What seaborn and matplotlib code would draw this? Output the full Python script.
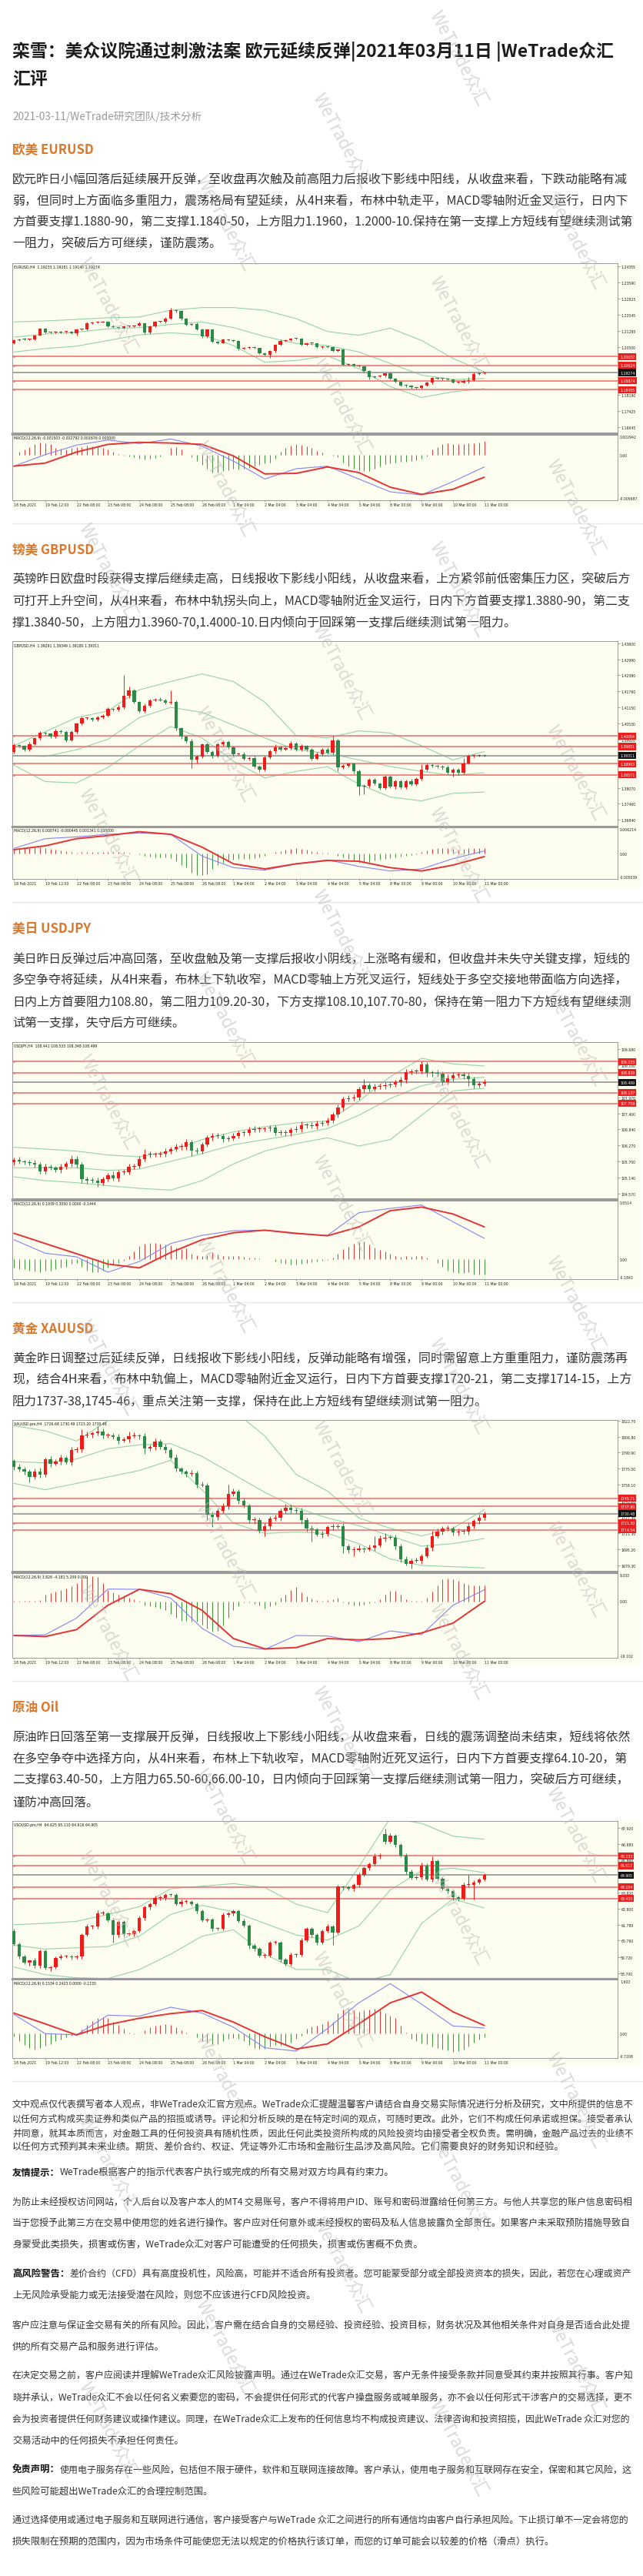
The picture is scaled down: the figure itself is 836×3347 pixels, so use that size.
import matplotlib
matplotlib.use("Agg")
import matplotlib.pyplot as plt
import matplotlib.transforms as mtrans
from matplotlib.patches import Rectangle
from matplotlib.lines import Line2D
import numpy as np
import seaborn as sns

sns.set_theme(style="white")
plt.rcParams['font.family'] = ['Noto Sans CJK SC', 'DejaVu Sans']
plt.rcParams['axes.unicode_minus'] = False

W, H = 837, 3348

# ---------------- shared chart data ----------------
time_labels = ["18 Feb 2021", "19 Feb 12:00", "22 Feb 08:00", "23 Feb 08:00", "24 Feb 08:00",
               "25 Feb 08:00", "26 Feb 08:00", "1 Mar 04:00", "2 Mar 04:00", "3 Mar 04:00",
               "4 Mar 04:00", "5 Mar 04:00", "8 Mar 00:00", "9 Mar 00:00", "10 Mar 00:00",
               "11 Mar 00:00"]

# ---------------- EURUSD H4 ----------------
eu_open0 = 1.2069
eu_close = [1.2084, 1.2087, 1.2086, 1.2087, 1.2106, 1.2137, 1.2121, 1.2118, 1.2121, 1.2122,
            1.2123, 1.2116, 1.2133, 1.2134, 1.2165, 1.2167, 1.2169, 1.2170, 1.2150, 1.2144,
            1.2142, 1.2149, 1.2150, 1.2153, 1.2165, 1.2118, 1.2149, 1.2170, 1.2170, 1.2186,
            1.2226, 1.2222, 1.2186, 1.2158, 1.2161, 1.2133, 1.2100, 1.2133, 1.2075, 1.2069,
            1.2085, 1.2084, 1.2079, 1.2042, 1.2047, 1.2048, 1.2044, 1.2020, 1.2012, 1.2030,
            1.2060, 1.2079, 1.2084, 1.2089, 1.2090, 1.2060, 1.2069, 1.2066, 1.2048, 1.2051,
            1.2049, 1.2032, 1.2037, 1.1964, 1.1967, 1.1961, 1.1958, 1.1934, 1.1907, 1.1909,
            1.1912, 1.1925, 1.1899, 1.1884, 1.1866, 1.1864, 1.1857, 1.1855, 1.1864, 1.1878,
            1.1900, 1.1899, 1.1897, 1.1894, 1.1880, 1.1881, 1.1888, 1.1892, 1.1921, 1.1924,
            1.1927]
eu_wick_up = [4,3,5,3,4,6,4,3,5,4, 3,4,6,3,5,4,6,3,4,5, 3,4,3,5,6,4,5,6,3,6, 12,5,4,3,4,5,4,6,5,3,
              4,5,3,4,3,4,5,3,4,6, 5,8,4,3,5,4,3,5,4,3, 4,5,3,6,4,3,5,4,3,4, 5,4,3,4,3,5,4,3,6,5,
              7,4,3,5,4,6,5,15,8,5, 4]
eu_wick_dn = [5,4,3,5,4,3,5,4,3,4, 5,3,12,4,3,5,4,3,5,4, 3,5,4,3,4,6,5,3,4,5, 4,5,6,4,5,3,5,6,4,5,
              3,4,5,6,4,5,3,4,5,15, 6,4,3,5,4,3,5,4,3,5, 4,3,5,4,5,3,4,5,14,4, 3,5,4,6,5,8,6,5,4,3,
              5,4,6,5,4,5,6,14,5,4, 3]
eu_bb_up = [1.2170, 1.2175, 1.2182, 1.2190, 1.2194, 1.2226, 1.2239, 1.2239, 1.2226, 1.2186,
            1.2124, 1.2106, 1.2140, 1.2081, 1.1995, 1.1931]
eu_bb_mid = [1.2097, 1.2112, 1.2121, 1.2137, 1.2143, 1.2158, 1.2170, 1.2143, 1.2100, 1.2067,
             1.2057, 1.2026, 1.1971, 1.1915, 1.1894, 1.1899]
eu_bb_lo = [1.2026, 1.2042, 1.2054, 1.2081, 1.2108, 1.2118, 1.2108, 1.2057, 1.1977, 1.1985,
            1.2008, 1.1946, 1.1860, 1.1808, 1.1835, 1.1850]
# MACD in units of 1e-4
eu_macd = [-16.0, 0.7, 14.5, 21.9, 16.7, 23.4, 13.0, -8.6, -34.6, -19.7, -16.0, -34.6, -53.2, -57.7, -38.3, -17.1]
eu_signal = [-16.0, -11.5, 4.5, 15.6, 18.6, 17.5, 15.6, -1.1, -27.2, -26.4, -17.1, -25.3, -46.5, -56.9, -49.5, -32.0]
eu_hist = [0, 4.5, 8.2, 11.9, 15.6, 18.2, 17.5, 15.6, 10.0, 9.3,
           8.2, 10.0, 11.9, 11.9, 13.8, 13.0, 13.8, 10.0, 8.2, 4.5,
           1.9, -1.1, -1.9, -3.0, -4.8, -6.7, -4.8, -3.7, -2.2, 0,
           10.0, 11.9, 8.2, 0.7, -3.0, -8.6, -14.1, -19.7, -25.3, -25.3,
           -23.4, -21.6, -19.7, -20.8, -19.7, -19.0, -16.0, -14.1, -12.3, -10.4,
           -4.8, 4.5, 10.0, 13.8, 15.6, 14.5, 13.0, 10.0, 6.3, 3.3,
           0.7, -1.1, -3.0, -10.4, -16.0, -19.7, -21.6, -22.7, -22.7, -19.7,
           -16.0, -13.0, -11.5, -10.4, -9.7, -9.7, -8.6, -7.1, -4.8, -1.9,
           8.2, 11.9, 15.6, 16.7, 16.4, 15.6, 15.6, 16.7, 17.5, 18.2, 20.1]
eu_levels = [1.20032, 1.19624, 1.18874, 1.18455]
eu_last = 1.19274
eu_ticks = [1.24355, 1.23590, 1.22825, 1.22045, 1.21280, 1.20500, 1.19735, 1.18970, 1.18190, 1.17425, 1.16645]

# ---------------- GBPUSD H4 ----------------
gb_open0 = 1.3944
gb_close = [1.3970, 1.3968, 1.3953, 1.3975, 1.3996, 1.4017, 1.4014, 1.4002, 1.4025, 1.4022,
            1.3990, 1.4022, 1.4052, 1.4073, 1.4073, 1.4068, 1.4078, 1.4084, 1.4108, 1.4106,
            1.4115, 1.4158, 1.4179, 1.4135, 1.4101, 1.4122, 1.4143, 1.4145, 1.4143, 1.4133,
            1.4135, 1.4035, 1.4002, 1.3986, 1.3914, 1.3927, 1.3973, 1.3944, 1.3929, 1.3973,
            1.3983, 1.3963, 1.3937, 1.3937, 1.3919, 1.3922, 1.3889, 1.3877, 1.3924, 1.3946,
            1.3963, 1.3953, 1.3958, 1.3978, 1.3953, 1.3968, 1.3953, 1.3919, 1.3937, 1.3953,
            1.3941, 1.3990, 1.3885, 1.3891, 1.3899, 1.3870, 1.3813, 1.3816, 1.3838, 1.3823,
            1.3806, 1.3850, 1.3811, 1.3833, 1.3809, 1.3833, 1.3821, 1.3842, 1.3877, 1.3894,
            1.3891, 1.3889, 1.3885, 1.3865, 1.3878, 1.3865, 1.3901, 1.3929, 1.3931, 1.3932,
            1.3931]
gb_wick_up = [6,5,4,8,5,6,4,5,7,5, 4,6,5,8,4,5,6,5,7,5, 8,80,15,6,5,7,6,5,8,6, 45,6,5,4,8,6,5,7,6,8,
              5,6,5,4,6,5,7,5,6,8, 10,5,6,8,5,6,4,5,6,5, 8,15,5,6,5,4,8,5,6,7, 5,6,5,4,6,5,8,6,20,6,
              5,6,5,8,6,5,20,8,6,5, 5]
gb_wick_dn = [5,6,5,7,4,5,6,5,4,6, 8,5,6,4,5,7,5,6,4,5, 6,5,8,6,7,5,6,5,4,6, 5,8,7,6,30,15,6,5,8,6,
              5,7,6,5,6,8,6,10,7,5, 6,5,4,6,5,6,5,7,5,6, 5,6,15,5,6,8,33,30,6,5, 7,6,5,8,6,5,6,5,6,5,
              6,5,7,6,15,8,6,5,6,5, 5]
gb_bb_up = [1.3968, 1.4022, 1.4076, 1.4101, 1.4182, 1.4214, 1.4243, 1.4214, 1.4135, 1.4007,
            1.3998, 1.4025, 1.4017, 1.3968, 1.3914, 1.3946]
gb_bb_mid = [1.3931, 1.3927, 1.3953, 1.3993, 1.4076, 1.4115, 1.4096, 1.4047, 1.3998, 1.3953,
             1.3939, 1.3914, 1.3889, 1.3870, 1.3855, 1.3865]
gb_bb_lo = [1.3894, 1.3831, 1.3826, 1.3885, 1.3968, 1.4042, 1.3998, 1.3909, 1.3845, 1.3870,
            1.3888, 1.3821, 1.3772, 1.3757, 1.3786, 1.3791]
gb_macd = [12.2, 35.3, 39.6, 45.7, 48.7, 45.7, -6.1, -33.5, -39.6, -24.4, -15.2, -30.5, -41.4, -36.5, -12.2, 6.1]
gb_signal = [9.1, 18.3, 35.3, 42.6, 51.8, 45.7, 15.2, -24.4, -36.5, -24.4, -16.4, -18.3, -33.5, -41.4, -27.4, -7.3]
gb_hist = [11.0, 12.2, 13.4, 14.0, 15.2, 14.0, 13.4, 11.0, 9.1, 7.3,
           4.9, 3.0, 2.4, 3.0, 3.0, 3.7, 3.7, 3.7, 4.3, 4.3,
           3.7, 3.7, 2.4, 0, -1.2, -4.9, -7.3, -8.5, -8.5, -8.5,
           -11.0, -18.3, -27.4, -33.5, -45.7, -51.8, -51.8, -48.7, -36.5, -27.4,
           -21.3, -18.3, -15.2, -13.4, -12.2, -12.2, -11.0, -9.1, -4.9, 0,
           3.0, 6.1, 9.1, 11.0, 12.2, 11.0, 9.1, 6.1, 3.7, 1.8,
           1.2, 0, -4.9, -9.1, -13.4, -17.1, -21.3, -21.3, -19.5, -17.1,
           -15.2, -12.2, -10.4, -9.1, -7.3, -6.1, -3.7, -1.2, 3.0, 7.3,
           11.0, 13.4, 13.4, 12.2, 11.0, 9.7, 11.0, 12.2, 12.2, 12.2, 13.4]
gb_levels = [1.40054, 1.39651, 1.38993, 1.38571]
gb_last = 1.39311
gb_ticks = [1.43600, 1.42990, 1.42380, 1.41760, 1.41150, 1.40530, 1.39920, 1.38690, 1.38070, 1.37460, 1.36840]

# ---------------- USDJPY H4 ----------------
jp_open0 = 105.678
jp_close = [105.768, 105.705, 105.678, 105.659, 105.596, 105.360, 105.505, 105.478, 105.414, 105.523,
            105.614, 105.796, 105.596, 105.069, 105.024, 105.015, 104.951, 105.088, 105.206, 105.115,
            105.324, 105.324, 105.523, 105.541, 105.777, 105.950, 105.959, 105.959, 105.977, 106.068,
            106.131, 106.222, 106.231, 106.376, 106.086, 106.068, 106.313, 106.540, 106.612, 106.612,
            106.494, 106.522, 106.612, 106.703, 106.703, 106.830, 106.839, 106.839, 106.866, 106.903,
            106.721, 106.721, 106.703, 106.821, 106.839, 106.976, 106.994, 106.957, 107.048, 107.066,
            107.157, 107.357, 107.611, 107.919, 107.946, 107.974, 108.264, 108.391, 108.273, 108.355,
            108.373, 108.400, 108.418, 108.500, 108.591, 108.863, 108.881, 108.900, 109.126, 108.836,
            108.827, 108.809, 108.500, 108.645, 108.763, 108.781, 108.736, 108.609, 108.400, 108.446,
            108.499]
jp_wick_up = [8,10,6,8,10,7,12,8,6,10, 8,12,9,7,8,10,12,8,10,15, 9,8,10,7,12,20,10,8,9,10, 8,10,9,12,8,10,7,8,10,9,
              8,7,9,10,8,9,12,8,7,9, 8,10,9,8,12,15,8,9,10,8, 9,10,12,8,10,9,8,24,10,9, 8,10,9,8,12,10,9,8,12,10,
              9,12,8,15,10,9,8,10,9,10, 12]
jp_wick_dn = [10,8,9,8,12,10,9,8,10,12, 8,9,10,12,10,8,14,9,10,8, 12,9,8,10,9,8,10,9,8,10, 9,8,10,12,20,9,8,10,9,8,
              10,9,8,10,9,8,10,9,8,10, 9,8,10,9,8,10,9,8,10,9, 8,10,9,12,10,9,8,12,10,9, 8,10,9,8,12,10,9,8,10,14,
              12,10,9,8,10,9,12,23,10,9, 8]
jp_bb_up = [106.204, 106.140, 106.068, 105.932, 105.868, 106.068, 106.476, 106.749, 106.930, 107.066,
            107.139, 107.838, 108.700, 109.353, 109.154, 109.081]
jp_bb_mid = [105.478, 105.478, 105.478, 105.387, 105.433, 105.705, 105.977, 106.295, 106.476, 106.658,
             106.866, 107.338, 107.928, 108.382, 108.609, 108.682]
jp_bb_lo = [105.160, 105.024, 104.951, 104.843, 104.752, 104.688, 105.024, 105.614, 106.068, 106.340,
            106.540, 106.249, 106.476, 107.338, 108.201, 108.291]
jp_macd = [0.191, 0.060, 0.025, -0.124, -0.020, 0.154, 0.233, 0.278, 0.283, 0.248, 0.233, 0.452, 0.494, 0.527, 0.365, 0.204]
jp_signal = [0.253, 0.154, 0.055, -0.045, -0.082, 0.067, 0.191, 0.258, 0.283, 0.253, 0.229, 0.315, 0.472, 0.507, 0.440, 0.315]
jp_hist = [-0.082, -0.094, -0.094, -0.107, -0.119, -0.124, -0.107, -0.107, -0.094, -0.082,
           -0.070, -0.045, -0.032, -0.070, -0.107, -0.124, -0.124, -0.107, -0.082, -0.057,
           -0.032, -0.015, 0.035, 0.075, 0.129, 0.154, 0.159, 0.159, 0.154, 0.147,
           0.134, 0.117, 0.099, 0.109, 0.055, 0.042, 0.035, 0.042, 0.067, 0.050,
           0.035, 0.030, 0.030, 0.030, 0.022, 0.017, 0.015, 0.012, 0.005, 0.002,
           -0.020, -0.032, -0.045, -0.050, -0.052, -0.045, -0.035, -0.027, -0.020, -0.015,
           -0.005, 0.017, 0.055, 0.099, 0.124, 0.154, 0.166, 0.174, 0.142, 0.117,
           0.092, 0.075, 0.055, 0.035, 0.025, 0.030, 0.025, 0.030, 0.035, 0.017,
           0, -0.032, -0.070, -0.107, -0.124, -0.131, -0.131, -0.124, -0.144, -0.149, -0.149]
jp_levels = [109.233, 108.839, 108.137, 107.759]
jp_last = 108.499
jp_ticks = [109.680, 109.100, 107.970, 107.400, 106.840, 106.270, 105.700, 105.140, 104.570]

# ---------------- XAUUSD H4 ----------------
xau_open0 = 1782.63
xau_close = [1777.05, 1774.51, 1772.49, 1766.91, 1771.98, 1768.93, 1784.15, 1780.09, 1782.12, 1785.67,
             1781.61, 1793.28, 1794.29, 1807.99, 1808.50, 1810.02, 1812.05, 1807.99, 1807.99, 1806.21,
             1802.92, 1804.44, 1807.48, 1807.74, 1807.48, 1794.80, 1796.83, 1801.90, 1796.32, 1793.79,
             1786.18, 1775.02, 1771.98, 1769.95, 1770.96, 1759.30, 1758.79, 1729.37, 1727.34, 1733.43,
             1737.74, 1750.17, 1752.70, 1743.57, 1738.50, 1724.30, 1724.30, 1713.65, 1718.21, 1725.82,
             1726.33, 1733.43, 1736.47, 1734.45, 1733.43, 1724.30, 1716.19, 1714.92, 1710.10, 1710.61,
             1717.20, 1717.71, 1718.47, 1698.43, 1694.38, 1694.88, 1695.90, 1695.64, 1696.91, 1699.45,
             1706.04, 1707.06, 1707.06, 1698.43, 1685.25, 1681.19, 1684.23, 1684.23, 1688.80, 1696.91,
             1708.58, 1712.89, 1715.93, 1715.93, 1712.38, 1712.89, 1713.14, 1718.21, 1723.29, 1726.33,
             1730.48]
xau_wick_up = [2,3,2,2,3,4,2,3,2,3, 2,3,2,6,3,2,5,3,2,2, 3,2,4,3,2,3,2,3,2,3, 2,3,2,2,3,2,3,2,3,2,
               3,9,3,2,3,2,3,2,3,2, 3,2,4,3,2,3,2,3,2,3, 2,3,2,3,2,3,4,2,3,9, 3,4,2,3,2,3,2,3,2,3,
               5,3,2,3,2,3,2,3,2,3, 2]
xau_wick_dn = [3,2,3,5,2,3,2,3,2,3, 2,3,2,3,2,3,2,3,2,2, 3,2,3,2,3,5,2,3,2,3, 2,3,2,3,2,3,2,5,10,3,
               2,3,2,3,2,3,4,2,5,3, 2,3,2,3,2,4,3,12,2,3, 2,3,2,7,3,6,2,3,2,3, 2,3,2,3,3,2,5,2,3,2,
               3,2,3,2,3,3,2,3,2,3, 2]
xau_bb_up = [1817.63, 1812.55, 1802.41, 1822.70, 1825.23, 1822.70, 1842.99, 1832.84, 1807.48, 1769.44,
             1752.96, 1726.33, 1716.19, 1708.58, 1716.19, 1734.45]
xau_bb_mid = [1782.12, 1780.85, 1784.66, 1794.80, 1798.61, 1799.87, 1787.19, 1769.44, 1751.69, 1736.47,
              1726.33, 1718.72, 1708.58, 1698.43, 1700.97, 1706.04]
xau_bb_lo = [1760.57, 1754.23, 1760.57, 1766.91, 1773.25, 1783.39, 1754.23, 1721.26, 1711.11, 1712.38,
             1711.11, 1700.97, 1685.75, 1679.41, 1678.15, 1676.88]
xau_macd = [-11.60, -11.34, -5.67, 4.19, 4.10, 1.13, -9.16, -15.26, -16.31, -11.60, -11.77, -13.69, -10.03, -11.34, -1.31, 3.92]
xau_signal = [-11.60, -11.95, -9.59, -1.31, 4.10, 2.62, -3.05, -12.64, -16.13, -15.70, -12.64, -13.08, -12.64, -10.73, -7.41, 0.0]
xau_hist = [0.09, 0.17, 0.26, 0.26, 0.26, 0.35, 2.18, 2.79, 3.23, 3.92,
            4.36, 5.23, 6.10, 7.85, 8.46, 8.46, 8.28, 6.10, 3.92, 3.05,
            2.18, 1.48, 1.13, 0.61, 0.26, -1.31, -1.74, -2.01, -2.35, -3.05,
            -4.36, -5.67, -6.54, -6.54, -6.98, -6.98, -7.85, -9.16, -10.20, -10.03,
            -8.28, -5.67, -3.05, -1.74, -0.44, -0.44, -0.87, -1.31, -2.35, -1.74,
            -1.13, 1.13, 2.18, 3.92, 4.80, 3.05, 1.74, 0.87, 0.44, 0.26,
            0.44, 0.61, 1.13, -0.26, -0.87, -1.31, -1.31, -1.13, -0.70, -0.26,
            0.61, 2.18, 3.49, 3.49, 2.18, 0.61, 0.26, 0.09, 0.26, 1.13,
            3.23, 5.49, 7.41, 7.67, 7.41, 6.98, 6.10, 5.67, 5.49, 5.41, 5.41]
xau_levels = [1745.71, 1737.80, 1721.30, 1714.54]
xau_last = 1730.48
xau_ticks = [1822.70, 1806.80, 1790.90, 1775.00, 1759.10, 1743.20, 1727.30, 1711.30, 1695.20, 1679.30]

# ---------------- USOUSD (Oil) H4 ----------------
oil_open0 = 61.364
oil_gap_open = {71: 67.514}
oil_close = [60.550, 59.737, 59.379, 59.492, 59.167, 60.094, 59.004, 59.086, 59.655, 59.769,
             59.769, 59.704, 59.737, 61.119, 61.656, 61.656, 62.502, 62.502, 62.047, 61.119,
             61.933, 61.168, 61.168, 61.364, 62.177, 62.860, 63.072, 63.446, 63.479, 63.674,
             63.641, 63.072, 63.235, 63.235, 63.072, 62.633, 62.047, 62.096, 61.526, 61.526,
             62.372, 62.470, 62.633, 62.014, 61.689, 60.420, 60.225, 59.818, 59.818, 60.631,
             60.631, 59.574, 59.281, 59.867, 59.867, 60.794, 61.494, 61.119, 60.631, 61.364,
             61.656, 61.282, 64.178, 64.129, 64.048, 64.292, 64.910, 65.350, 65.594, 66.082,
             66.163, 67.026, 67.416, 66.814, 66.163, 65.138, 64.748, 64.780, 65.512, 64.650,
             65.789, 64.699, 64.048, 63.885, 63.511, 63.397, 64.292, 64.292, 64.422, 64.650,
             64.905]
oil_wick_up = [15,10,12,8,15,10,12,8,10,12, 8,10,12,10,15,10,20,12,10,15, 10,12,8,10,15,12,10,15,12,10,
               8,10,12,15,10,12,10,8,12,10, 15,12,10,8,12,10,15,10,12,10, 15,12,10,12,10,15,10,12,10,8,
               15,12,10,8,12,10,15,12,10,20, 15,35,15,12,10,15,12,10,20,15, 30,12,10,15,12,10,15,62,15,10, 12]
oil_wick_dn = [12,15,10,20,12,15,10,20,12,10, 12,15,10,12,10,15,12,10,12,50, 12,15,10,12,10,15,12,10,12,15,
               10,12,15,10,12,15,10,12,15,12, 10,12,15,12,10,20,12,10,15,12, 10,15,12,10,15,12,10,15,12,10,
               12,80,12,15,10,12,15,10,12,10, 12,15,10,12,10,15,12,10,12,10, 15,12,10,15,17,12,10,12,93,10, 10]
oil_bb_up = [61.770, 61.852, 61.982, 62.421, 62.909, 64.048, 64.211, 64.373, 64.129, 63.072,
             62.535, 65.431, 68.522, 68.197, 67.383, 67.188]
oil_bb_mid = [60.469, 60.225, 60.306, 60.387, 61.038, 62.421, 62.991, 62.584, 61.852, 61.119,
              60.794, 61.689, 63.967, 65.187, 65.350, 65.073]
oil_bb_lo = [59.086, 58.598, 58.402, 58.354, 58.923, 59.899, 61.038, 61.445, 59.899, 58.923,
             58.923, 58.109, 58.598, 61.852, 63.397, 62.828]
oil_macd = [0.572, 0.0, -0.038, 0.549, 0.519, 0.786, 0.610, 0.191, -0.420, -0.519, 0.153, 0.916, 1.488, 0.877, 0.229, 0.168]
oil_signal = [0.610, 0.290, -0.038, 0.267, 0.458, 0.595, 0.687, 0.343, -0.092, -0.458, -0.305, 0.290, 0.916, 1.236, 0.649, 0.244]
oil_hist = [-0.092, -0.229, -0.343, -0.420, -0.473, -0.420, -0.366, -0.305, -0.229, -0.168,
            -0.114, -0.061, -0.015, 0.114, 0.267, 0.382, 0.473, 0.496, 0.458, 0.343,
            0.267, 0.153, 0.038, -0.015, 0.015, 0.092, 0.191, 0.244, 0.267, 0.290,
            0.267, 0.191, 0.092, 0.038, 0.0, -0.114, -0.229, -0.267, -0.305, -0.305,
            -0.229, -0.153, -0.137, -0.153, -0.214, -0.343, -0.420, -0.458, -0.458, -0.382,
            -0.343, -0.366, -0.343, -0.267, -0.153, -0.061, 0.153, 0.214, 0.244, 0.290,
            0.382, 0.343, 0.610, 0.725, 0.748, 0.702, 0.649, 0.687, 0.725, 0.748,
            0.687, 0.610, 0.534, 0.458, 0.229, 0.038, -0.153, -0.229, -0.290, -0.320,
            -0.382, -0.420, -0.473, -0.496, -0.534, -0.519, -0.473, -0.382, -0.267, -0.168, -0.114]
oil_levels = [66.133, 65.517, 64.154, 63.433]
oil_last = 64.905
oil_ticks = [67.920, 66.880, 65.860, 63.820, 62.800, 61.780, 60.760, 59.720, 58.700]

# ---------------- article text ----------------
title_lines = ["栾雪：美众议院通过刺激法案 欧元延续反弹|2021年03月11日 |WeTrade众汇", "汇评"]
meta_line = "2021-03-11/WeTrade研究团队/技术分析"

eu_head = "欧美 EURUSD"
eu_text = ["欧元昨日小幅回落后延续展开反弹，至收盘再次触及前高阻力后报收下影线中阳线，从收盘来看，下跌动能略有减",
           "弱，但同时上方面临多重阻力，震荡格局有望延续，从4H来看，布林中轨走平，MACD零轴附近金叉运行，日内下",
           "方首要支撑1.1880-90，第二支撑1.1840-50，上方阻力1.1960，1.2000-10.保持在第一支撑上方短线有望继续测试第",
           "一阻力，突破后方可继续，谨防震荡。"]
gb_head = "镑美 GBPUSD"
gb_text = ["英镑昨日欧盘时段获得支撑后继续走高，日线报收下影线小阳线，从收盘来看，上方紧邻前低密集压力区，突破后方",
           "可打开上升空间，从4H来看，布林中轨拐头向上，MACD零轴附近金叉运行，日内下方首要支撑1.3880-90，第二支",
           "撑1.3840-50，上方阻力1.3960-70,1.4000-10.日内倾向于回踩第一支撑后继续测试第一阻力。"]
jp_head = "美日 USDJPY"
jp_text = ["美日昨日反弹过后冲高回落，至收盘触及第一支撑后报收小阴线，上涨略有缓和，但收盘并未失守关键支撑，短线的",
           "多空争夺将延续，从4H来看，布林上下轨收窄，MACD零轴上方死叉运行，短线处于多空交接地带面临方向选择，",
           "日内上方首要阻力108.80，第二阻力109.20-30，下方支撑108.10,107.70-80，保持在第一阻力下方短线有望继续测",
           "试第一支撑，失守后方可继续。"]
xau_head = "黄金 XAUUSD"
xau_text = ["黄金昨日调整过后延续反弹，日线报收下影线小阳线，反弹动能略有增强，同时需留意上方重重阻力，谨防震荡再",
            "现，结合4H来看，布林中轨偏上，MACD零轴附近金叉运行，日内下方首要支撑1720-21，第二支撑1714-15，上方",
            "阻力1737-38,1745-46，重点关注第一支撑，保持在此上方短线有望继续测试第一阻力。"]
oil_head = "原油 Oil"
oil_text = ["原油昨日回落至第一支撑展开反弹，日线报收上下影线小阳线，从收盘来看，日线的震荡调整尚未结束，短线将依然",
            "在多空争夺中选择方向，从4H来看，布林上下轨收窄，MACD零轴附近死叉运行，日内下方首要支撑64.10-20，第",
            "二支撑63.40-50，上方阻力65.50-60,66.00-10，日内倾向于回踩第一支撑后继续测试第一阻力，突破后方可继续，",
            "谨防冲高回落。"]

disc1 = ["文中观点仅代表撰写者本人观点，非WeTrade众汇官方观点。WeTrade众汇提醒温馨客户请结合自身交易实际情况进行分析及研究，文中所提供的信息不",
         "以任何方式构成买卖证券和类似产品的招揽或诱导。评论和分析反映的是在特定时间的观点，可随时更改。此外，它们不构成任何承诺或担保。接受者承认",
         "并同意，就其本质而言，对金融工具的任何投资具有随机性质，因此任何此类投资所构成的风险投资均由接受者全权负责。需明确，金融产品过去的业绩不",
         "以任何方式预判其未来业绩。期货、差价合约、权证、凭证等外汇市场和金融衍生品涉及高风险。它们需要良好的财务知识和经验。"]
# (bold prefix, text, y)
disc2 = [("友情提示：", "WeTrade根据客户的指示代表客户执行或完成的所有交易对双方均具有约束力。", 2823),
         ("", "为防止未经授权访问网站，个人后台以及客户本人的MT4 交易账号，客户不得将用户ID、账号和密码泄露给任何第三方。与他人共享您的账户信息密码相", 2862),
         ("", "当于您授予此第三方在交易中使用您的姓名进行操作。客户应对任何意外或未经授权的密码及私人信息披露负全部责任。如果客户未采取预防措施导致自", 2889.5),
         ("", "身蒙受此类损失，损害或伤害，WeTrade众汇对客户可能遭受的任何损失，损害或伤害概不负责。", 2917),
         ("高风险警告：", "差价合约（CFD）具有高度投机性，风险高，可能并不适合所有投资者。您可能蒙受部分或全部投资资本的损失，因此，若您在心理或资产", 2955),
         ("", "上无风险承受能力或无法接受潜在风险，则您不应该进行CFD风险投资。", 2983),
         ("", "客户应注意与保证金交易有关的所有风险。因此，客户需在结合自身的交易经验、投资经验、投资目标，财务状况及其他相关条件对自身是否适合此处提", 3022),
         ("", "供的所有交易产品和服务进行评估。", 3049.5),
         ("", "在决定交易之前，客户应阅读并理解WeTrade众汇风险披露声明。通过在WeTrade众汇交易，客户无条件接受条款并同意受其约束并按照其行事。客户知", 3087),
         ("", "晓并承认，WeTrade众汇不会以任何名义索要您的密码，不会提供任何形式的代客户操盘服务或喊单服务，亦不会以任何形式干涉客户的交易选择，更不", 3115),
         ("", "会为投资者提供任何财务建议或操作建议。同理，在WeTrade众汇上发布的任何信息均不构成投资建议、法律咨询和投资招揽，因此WeTrade 众汇对您的", 3143),
         ("", "交易活动中的任何损失不承担任何责任。", 3171),
         ("免责声明：", "使用电子服务存在一些风险，包括但不限于硬件，软件和互联网连接故障。客户承认，使用电子服务和互联网存在安全，保密和其它风险，这", 3209),
         ("", "些风险可能超出WeTrade众汇的合理控制范围。", 3237),
         ("", "通过选择使用或通过电子服务和互联网进行通信，客户接受客户与WeTrade 众汇之间进行的所有通信均由客户自行承担风险。下止损订单不一定会将您的", 3275),
         ("", "损失限制在预期的范围内，因为市场条件可能使您无法以规定的价格执行该订单，而您的订单可能会以较差的价格（滑点）执行。", 3303)]

# ---------------- styling ----------------
CREAM = '#fefef0'
UPC = '#f01c1c'
DNC = '#2b8a48'
BBC = '#93d3a6'
LVL = '#ee6a6a'
MBLUE = '#8383f2'
MRED = '#e53232'
TXT = '#333333'
ORANGE = '#d9782d'
MONO = ['DejaVu Sans']
TINY = 3.3

fig = plt.figure(figsize=(W / 100, H / 100), dpi=100)
fig.patch.set_facecolor('white')
renderer = fig.canvas.get_renderer()


def add_ax(x0, y0, x1, y1):
    return fig.add_axes([x0 / W, 1 - y1 / H, (x1 - x0) / W, (y1 - y0) / H])


def put(x, y, s, size, color=TXT, weight='normal', maxw=None, **kw):
    t = fig.text(x / W, 1 - y / H, s, fontsize=size, color=color, fontweight=weight,
                 va='center', ha='left', **kw)
    if maxw is not None:
        w = t.get_window_extent(renderer).width
        if w > maxw:
            t.set_fontsize(size * maxw / w)
    return t


def sep(y):
    fig.add_artist(Line2D([16 / W, 835 / W], [1 - y / H] * 2, color='#e8e8e8', lw=1.0))


def chart(box, open0, close, wu, wd, unit, gaps, bb, macd, sig, hist, levels, last,
          ticks, dec, ylim, mylim, hdr, mhdr, mlabels):
    top, split, mtop, bot = box
    fig.add_artist(Rectangle((16 / W, 1 - (bot + 11) / H), (833 - 16) / W, (bot + 11 - top) / H,
                             transform=fig.transFigure, fc=CREAM, ec='none', zorder=-1))
    ax = add_ax(16, top, 803, split)
    axm = add_ax(16, mtop, 803, bot)
    for a in (ax, axm):
        a.set_facecolor(CREAM)
        for s in a.spines.values():
            s.set_color('#9a9a9a')
            s.set_linewidth(0.7)
        a.set_xlim(-0.3, 115.5)
    ax.spines['bottom'].set_linewidth(1.5)
    axm.spines['top'].set_linewidth(1.5)
    ax.set_ylim(*ylim)
    axm.set_ylim(*mylim)

    closes = np.array(close, dtype=float)
    opens = np.r_[open0, closes[:-1]]
    for i, g in gaps.items():
        opens[i] = g
    n = len(closes)
    idx = np.arange(n)
    hi = np.maximum(opens, closes) + np.array(wu[:n]) * unit
    lo = np.minimum(opens, closes) - np.array(wd[:n]) * unit
    cols = np.where(closes >= opens, UPC, DNC)
    minh = (ylim[1] - ylim[0]) / (split - top) * 1.0
    ax.vlines(idx, lo, hi, colors=cols, lw=0.7, zorder=3)
    ax.bar(idx, np.maximum(np.abs(closes - opens), minh), bottom=np.minimum(opens, closes),
           width=0.64, color=cols, lw=0, zorder=4)

    bx = np.arange(0, n, 6)
    for line in bb:
        sns.lineplot(x=bx, y=line, ax=ax, color=BBC, lw=0.8, legend=False, zorder=2)

    trans = mtrans.blended_transform_factory(ax.transAxes, ax.transData)
    fmt = '{:.%df}' % dec
    for v in levels:
        ax.axhline(v, color=LVL, lw=1.1, zorder=2.5)
        ax.plot([-0.05], [v], marker='o', ms=1.6, mfc='none', mec=LVL, mew=0.5, zorder=2.5)
        ax.text(1.004, v, fmt.format(v), transform=trans, fontsize=TINY, family=MONO, color='white',
                va='center', ha='left', bbox=dict(boxstyle='square,pad=0.45', fc='#ea2020', ec='none'))
    ax.axhline(last, color='#a3a3a3', lw=1.4, zorder=2.5)
    ax.text(1.004, last, fmt.format(last), transform=trans, fontsize=TINY, family=MONO, color='white',
            va='center', ha='left', bbox=dict(boxstyle='square,pad=0.45', fc='#111111', ec='none'))

    ax.set_xticks([])
    ax.yaxis.tick_right()
    ax.set_yticks(ticks)
    ax.set_yticklabels([fmt.format(v) for v in ticks], fontsize=TINY, family=MONO, color='#222222')
    ax.tick_params(axis='y', which='both', right=True, left=False, labelright=True, labelleft=False,
                   length=1.8, width=0.4, pad=1.2, color='#555555')
    ax.set_xlabel('')
    ax.set_ylabel('')
    ax.text(0.003, 0.99, hdr, transform=ax.transAxes, fontsize=TINY, family=MONO, color='#111111',
            va='top', ha='left')

    hv = np.array(hist[:n], dtype=float)
    axm.vlines(idx[:len(hv)], 0, hv, colors=np.where(hv >= 0, '#e23a3a', '#3c9a3c'), lw=0.75, zorder=2)
    sns.lineplot(x=bx, y=macd, ax=axm, color=MBLUE, lw=0.8, legend=False, zorder=3)
    sns.lineplot(x=bx, y=sig, ax=axm, color=MRED, lw=1.4, legend=False, zorder=4)
    axm.set_yticks([])
    axm.set_xlabel('')
    axm.set_ylabel('')
    axm.set_xticks(np.arange(0, 91, 6))
    axm.set_xticklabels(time_labels, fontsize=TINY, family=MONO, color='#222222')
    for t in axm.get_xticklabels():
        t.set_ha('left')
    axm.tick_params(axis='x', bottom=True, length=1.6, width=0.4, pad=0.8, color='#555555')
    axm.text(0.003, 0.985, mhdr, transform=axm.transAxes, fontsize=TINY, family=MONO,
             color='#111111', va='top', ha='left')
    mt = mtrans.blended_transform_factory(axm.transAxes, axm.transData)
    axm.text(1.004, mylim[1], mlabels[0], transform=mt, fontsize=TINY, family=MONO, va='top', color='#222222')
    axm.text(1.004, 0, '0.00', transform=mt, fontsize=TINY, family=MONO, va='center', color='#222222')
    axm.text(1.004, mylim[0], mlabels[1], transform=mt, fontsize=TINY, family=MONO, va='bottom', color='#222222')


def section(head, head_y, lines, line_ys):
    put(16, head_y, head, 12, color=ORANGE, weight='bold')
    for s, y in zip(lines, line_ys):
        put(16, y, s, 11.5, maxw=806)


# ---------------- header ----------------
put(16, 67, title_lines[0], 16.5, color='#1c1c1c', weight='bold', maxw=808)
put(16, 103, title_lines[1], 16.5, color='#1c1c1c', weight='bold')
put(16, 152, meta_line, 9.8, color='#9a9a9a')

# ---------------- EURUSD ----------------
section(eu_head, 195, eu_text, [233, 261.5, 289, 317])
chart((342.7, 564.3, 566, 650.7), eu_open0, eu_close, eu_wick_up, eu_wick_dn, 0.0001, {},
      [eu_bb_up, eu_bb_mid, eu_bb_lo], eu_macd, eu_signal, eu_hist, eu_levels, eu_last,
      eu_ticks, 5, (1.16348, 1.24528), (-65.1, 29.4),
      "EURUSD,H4  1.19233 1.19281 1.19140 1.19274",
      "MACD(12,26,9) -0.001503 -0.002792 0.001676 0.000000", ("0.002942", "-0.005687"))
sep(681)

# ---------------- GBPUSD ----------------
section(gb_head, 715, gb_text, [753, 781.5, 810])
chart((834.3, 1075, 1076, 1142.7), gb_open0, gb_close, gb_wick_up, gb_wick_dn, 0.0001, {},
      [gb_bb_up, gb_bb_mid, gb_bb_lo], gb_macd, gb_signal, gb_hist, gb_levels, gb_last,
      gb_ticks, 5, (1.36587, 1.43677), (-59.7, 62.1),
      "GBPUSD,H4  1.39291 1.39349 1.39180 1.39311",
      "MACD(12,26,9) 0.000741 -0.000445 0.001341 0.000000", ("0.006214", "-0.005039"))
sep(1173)

# ---------------- USDJPY ----------------
section(jp_head, 1207, jp_text, [1246, 1274, 1302, 1330])
chart((1354.7, 1559.3, 1560.7, 1662.7), jp_open0, jp_close, jp_wick_up, jp_wick_dn, 0.01, {},
      [jp_bb_up, jp_bb_mid, jp_bb_lo], jp_macd, jp_signal, jp_hist, jp_levels, jp_last,
      jp_ticks, 3, (104.362, 109.934), (-0.1888, 0.5713),
      "USDJPY,H4  108.441 108.533 108.348 108.499",
      "MACD(12,26,9) 0.1939 0.3050 0.0000 -0.1444", ("0.5514", "-0.1843"))
sep(1693)

# ---------------- XAUUSD ----------------
section(xau_head, 1727, xau_text, [1765, 1793, 1821])
chart((1845.7, 2043.3, 2045, 2155), xau_open0, xau_close, xau_wick_up, xau_wick_dn, 1.0, {},
      [xau_bb_up, xau_bb_mid, xau_bb_lo], xau_macd, xau_signal, xau_hist, xau_levels, xau_last,
      xau_ticks, 2, (1673.07, 1823.46), (-19.18, 9.59),
      "XAUUSD.pro,H4  1726.68 1730.49 1723.20 1730.48",
      "MACD(12,26,9) 3.826 -4.181 5.209 0.000", ("9.333", "-19.102"))
sep(2185)

# ---------------- Oil ----------------
section(oil_head, 2219, oil_text, [2258, 2286, 2313, 2342])
chart((2366.7, 2571.7, 2573.3, 2675), oil_open0, oil_close, oil_wick_up, oil_wick_dn, 0.01, oil_gap_open,
      [oil_bb_up, oil_bb_mid, oil_bb_lo], oil_macd, oil_signal, oil_hist, oil_levels, oil_last,
      oil_ticks, 3, (58.354, 68.360), (-0.725, 1.602),
      "USOUSD.pro,H4  64.625 65.110 64.616 64.905",
      "MACD(12,26,9) 0.1534 0.2423 0.0000 -0.1155", ("1.602", "-0.7208"))
sep(2705)

# ---------------- disclaimer ----------------
for s, y in zip(disc1, [2735, 2753.5, 2772, 2790.5]):
    put(16, y, s, 8.9, maxw=806)
for bold, s, y in disc2:
    x = 16
    if bold:
        tb = put(x, y, bold, 8.9, color='#111111', weight='bold')
        x += tb.get_window_extent(renderer).width
    put(x, y, s, 8.9, maxw=822 - x)

# ---------------- watermark (kept fully inside the page) ----------------
for k in range(0, 5):
    wx = 140 + 152 * k
    for m in range(0, 12):
        wy = 52 - 107 * k + 345 * m
        if 75 < wy < H - 75:
            fig.text(wx / W, 1 - wy / H, "WeTrade众汇", fontsize=16, color='#bcbcbc', alpha=0.55,
                     rotation=-62, rotation_mode='anchor', ha='center', va='center', zorder=50)

fig.savefig("out.png", dpi=100, facecolor='white')
